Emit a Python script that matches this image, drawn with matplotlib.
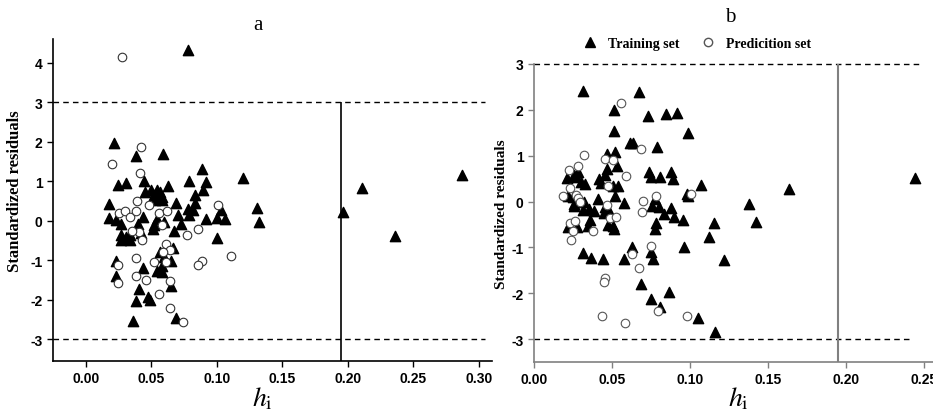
import numpy as np
import matplotlib
matplotlib.use('Agg')
import matplotlib.pyplot as plt
from matplotlib.lines import Line2D

plt.rcParams['mathtext.fontset'] = 'stix'
plt.rcParams['axes.unicode_minus'] = False

# panel a: training set (leverage, standardized residual)
a_train_h = [0.078, 0.0216, 0.038, 0.059, 0.089, 0.120, 0.0247, 0.031, 0.0448, 0.0789,
             0.0921, 0.0628, 0.0893, 0.0837, 0.045, 0.050, 0.054, 0.057, 0.052, 0.055,
             0.058, 0.0178, 0.0527, 0.058, 0.069, 0.083, 0.078, 0.082, 0.103, 0.131,
             0.132, 0.0178, 0.0234, 0.027, 0.0437, 0.040, 0.052, 0.060, 0.0547, 0.073,
             0.0705, 0.079, 0.092, 0.100, 0.1066, 0.0674, 0.1005, 0.027, 0.0336, 0.0425,
             0.031, 0.027, 0.0336, 0.051, 0.0666, 0.057, 0.060, 0.065, 0.058, 0.054,
             0.058, 0.044, 0.0229, 0.0234, 0.065, 0.0407, 0.038, 0.0476, 0.049, 0.036,
             0.069, 0.196, 0.211, 0.236, 0.287]
a_train_r = [4.31, 1.98, 1.63, 1.68, 1.32, 1.09, 0.90, 0.96, 1.01, 1.01,
             0.98, 0.88, 0.77, 0.66, 0.73, 0.79, 0.79, 0.74, 0.64, 0.60,
             0.60, 0.43, 0.52, 0.52, 0.46, 0.46, 0.30, 0.26, 0.28, 0.32,
             -0.03, 0.07, 0.01, -0.08, 0.09, -0.08, -0.12, -0.03, 0.05, -0.08,
             0.15, 0.15, 0.05, 0.07, 0.05, -0.27, -0.43, -0.36, -0.37, -0.30,
             -0.41, -0.50, -0.50, -0.20, -0.69, -0.79, -0.92, -1.02, -1.15, -1.26,
             -1.29, -1.19, -1.03, -1.39, -1.66, -1.73, -2.02, -1.94, -2.00, -2.55,
             -2.47, 0.22, 0.83, -0.39, 1.15]

# panel a: prediction set
a_test_h = [0.0275, 0.042, 0.0204, 0.0415, 0.039, 0.048, 0.101, 0.0254, 0.030, 0.0336,
            0.038, 0.056, 0.062, 0.0585, 0.086, 0.077, 0.0407, 0.035, 0.043, 0.111,
            0.061, 0.064, 0.059, 0.061, 0.052, 0.038, 0.089, 0.0857, 0.0247, 0.0247,
            0.0387, 0.046, 0.064, 0.056, 0.064, 0.074]
a_test_r = [4.14, 1.87, 1.43, 1.22, 0.49, 0.41, 0.39, 0.20, 0.24, 0.09,
            0.24, 0.20, 0.24, -0.12, -0.20, -0.37, -0.29, -0.25, -0.50, -0.88,
            -0.58, -0.73, -0.79, -1.05, -1.05, -0.95, -1.03, -1.11, -1.13, -1.57,
            -1.39, -1.49, -1.52, -1.85, -2.22, -2.56]

# panel b: training set
b_train_h = [0.0316, 0.0675, 0.0515, 0.0729, 0.0844, 0.0915, 0.0513, 0.0989, 0.0615, 0.0637,
             0.079, 0.0466, 0.052, 0.0534, 0.047, 0.0737, 0.0878, 0.075, 0.081, 0.0893,
             0.107, 0.021, 0.027, 0.028, 0.026, 0.030, 0.033, 0.042, 0.043, 0.0455,
             0.051, 0.054, 0.022, 0.025, 0.026, 0.032, 0.041, 0.052, 0.058, 0.0776,
             0.088, 0.099, 0.0985, 0.026, 0.0316, 0.035, 0.0387, 0.0455, 0.0476, 0.045,
             0.076, 0.080, 0.0835, 0.090, 0.0953, 0.0359, 0.0348, 0.022, 0.0278, 0.0476,
             0.051, 0.0513, 0.0782, 0.0776, 0.1156, 0.1124, 0.063, 0.0748, 0.0765, 0.0962,
             0.122, 0.0312, 0.0363, 0.044, 0.0577, 0.0688, 0.0865, 0.0752, 0.081, 0.105,
             0.116, 0.1637, 0.138, 0.1427, 0.2444]
b_train_r = [2.41, 2.39, 1.99, 1.87, 1.90, 1.93, 1.53, 1.49, 1.28, 1.28,
             1.19, 1.04, 1.08, 0.77, 0.70, 0.64, 0.65, 0.53, 0.53, 0.49,
             0.35, 0.51, 0.53, 0.64, 0.57, 0.42, 0.39, 0.49, 0.41, 0.57,
             0.33, 0.33, 0.12, 0.09, -0.05, -0.02, 0.06, 0.12, -0.03, 0.06,
             -0.15, 0.12, 0.17, -0.09, -0.18, -0.16, -0.20, -0.12, -0.16, -0.26,
             -0.09, -0.11, -0.27, -0.34, -0.40, -0.40, -0.53, -0.56, -0.56, -0.51,
             -0.54, -0.60, -0.47, -0.60, -0.47, -0.78, -0.99, -1.11, -1.26, -0.99,
             -1.28, -1.13, -1.23, -1.26, -1.26, -1.79, -1.98, -2.13, -2.30, -2.53,
             -2.84, 0.28, -0.05, -0.44, 0.52]

# panel b: prediction set
b_test_h = [0.0558, 0.0684, 0.032, 0.0455, 0.051, 0.0284, 0.0224, 0.0588, 0.023, 0.0476,
            0.0188, 0.0267, 0.0284, 0.078, 0.070, 0.1006, 0.0466, 0.0295, 0.069, 0.0487,
            0.0526, 0.023, 0.0263, 0.025, 0.0376, 0.0235, 0.0754, 0.063, 0.0673, 0.0455,
            0.045, 0.0797, 0.0434, 0.0583, 0.0983]
b_test_r = [2.16, 1.15, 1.02, 0.92, 0.90, 0.77, 0.68, 0.55, 0.29, 0.33,
            0.13, 0.14, 0.08, 0.13, 0.02, 0.17, -0.07, 0.00, -0.22, -0.36,
            -0.34, -0.47, -0.42, -0.64, -0.65, -0.83, -0.98, -1.15, -1.44, -1.67,
            -1.75, -2.39, -2.50, -2.64, -2.50]

h_crit = 0.195
tick_font = dict(family='Liberation Sans', weight='bold', size=10)

fig = plt.figure(figsize=(9.33, 4.14), dpi=100)

def style_axes(ax, color, lab_size):
    ax.spines['top'].set_visible(False)
    ax.spines['right'].set_visible(False)
    for s in ['left', 'bottom']:
        ax.spines[s].set_color(color)
        ax.spines[s].set_linewidth(1.2)
    ax.tick_params(direction='out', length=4, width=1, color=color)
    for lab in ax.get_xticklabels() + ax.get_yticklabels():
        lab.set_fontfamily(tick_font['family'])
        lab.set_fontweight('bold')
        lab.set_fontsize(tick_font['size'])
    ax.set_ylabel('Standardized residuals', family='Liberation Serif', weight='bold', size=lab_size)

# ---- panel a ----
ax1 = fig.add_axes([0.0568, 0.1256, 0.4705, 0.7778])
ax1.set_xlim(-0.025, 0.31)
ax1.set_ylim(-3.55, 4.6)
ax1.hlines([3, -3], -0.025, 0.305, colors='black', linestyles=(0, (4, 3)), lw=1)
ax1.vlines(h_crit, -3.55, 3, colors='black', lw=1.2)
ax1.scatter(a_train_h, a_train_r, marker='^', s=55, c='black', edgecolors='black', zorder=3)
ax1.scatter(a_test_h, a_test_r, marker='o', s=38, facecolors='white', edgecolors='#333333',
            linewidths=0.8, zorder=4)
ax1.set_xticks(np.arange(0, 0.31, 0.05))
ax1.set_yticks(range(-3, 5))
ax1.xaxis.set_major_formatter(plt.FormatStrFormatter('%.2f'))
style_axes(ax1, 'black', 12)
ax1.yaxis.set_label_coords(-0.068, 0.53)

# ---- panel b ----
ax2 = fig.add_axes([0.5723, 0.1232, 0.4277, 0.7198])
ax2.set_xlim(0, 0.256)
ax2.set_ylim(-3.5, 3.0)
ax2.hlines(3, 0, 0.249, colors='black', linestyles=(0, (4, 3)), lw=1, clip_on=False)
ax2.hlines(-3, 0, 0.243, colors='black', linestyles=(0, (4, 3)), lw=1)
ax2.vlines(h_crit, -3.5, 3, colors='#808080', lw=1.5, clip_on=False)
ax2.scatter(b_train_h, b_train_r, marker='^', s=55, c='black', edgecolors='black', zorder=3)
ax2.scatter(b_test_h, b_test_r, marker='o', s=38, facecolors='white', edgecolors='#555555',
            linewidths=0.8, zorder=4)
ax2.set_xticks(np.arange(0, 0.26, 0.05))
ax2.set_yticks(range(-3, 4))
ax2.xaxis.set_major_formatter(plt.FormatStrFormatter('%.2f'))
style_axes(ax2, '#808080', 11)
ax2.yaxis.set_label_coords(-0.065, 0.5)

handles = [Line2D([], [], marker='^', ls='', color='black', markersize=7),
           Line2D([], [], marker='o', ls='', markerfacecolor='white', markeredgecolor='#555555',
                  markersize=6)]
ax2.legend(handles, ['Training set', 'Predicition set'], ncol=2, frameon=False,
           loc='center', bbox_to_anchor=(0.4, 1.068), handletextpad=0.3, columnspacing=1.0,
           prop=dict(family='Liberation Serif', weight='bold', size=10))

# titles and x labels
fig.text(258 / 933, 1 - 25 / 414, 'a', family='Liberation Serif', size=15, ha='center', va='center')
fig.text(730 / 933, 1 - 17 / 414, 'b', family='Liberation Serif', size=15, ha='center', va='center')
fig.text(262 / 933, 1 - 398 / 414, r'$\mathit{h}_\mathrm{i}$', size=20, ha='center', va='center')
fig.text(738 / 933, 1 - 398 / 414, r'$\mathit{h}_\mathrm{i}$', size=20, ha='center', va='center')

fig.savefig('out.png', dpi=100)
